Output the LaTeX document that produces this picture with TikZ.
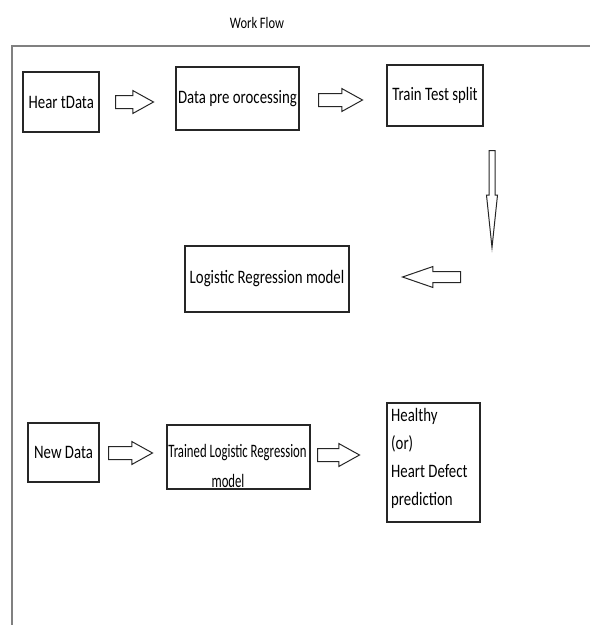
\documentclass[tikz,border=0pt]{standalone}
\usepackage{fontspec}
\setmainfont{Carlito}[FakeStretch=0.78]
\newfontfamily\narrowfont{Carlito}[FakeStretch=0.67]
\usetikzlibrary{shapes.arrows}
\begin{document}
\begin{tikzpicture}[x=1pt,y=-1pt,
  box/.style={draw=black!85, line width=1.2pt, inner sep=0pt, align=center,
    font=\fontsize{19}{22}\selectfont},
  txt/.style={inner sep=0pt, font=\fontsize{19}{22}\selectfont},
  ntxt/.style={inner sep=0pt, font=\narrowfont\fontsize{19}{22}\selectfont},
  barrow/.style={single arrow, draw=black!85, line width=1pt, inner xsep=0pt, inner ysep=6pt,
    single arrow head extend=5pt, single arrow tip angle=58, anchor=tail},
  frame/.style={draw=black!50, line width=2pt}
]
\useasboundingbox (0,0) rectangle (590,625);
\node[txt, font=\fontsize{16}{18}\selectfont] (title) at (257,23) {Work Flow};
\coordinate (fb) at (12,626);
\coordinate (fc) at (12,46);
\coordinate (fr) at (591,46);
\draw[frame] (fb) -- (fc) -- (fr);

\node[box, minimum width=76pt, minimum height=60pt] (heart) at (61,102) {};
\node[txt, anchor=west] (hearttxt) at (28.5,102) {Hear tData};
\node[box, minimum width=123pt, minimum height=63pt] (pre) at (237.5,98.5) {Data pre orocessing};
\node[box, minimum width=96pt, minimum height=61pt] (split) at (435,95.5) {Train Test split};
\node[box, minimum width=164pt, minimum height=66pt] (lr) at (267,279) {Logistic Regression model};
\node[box, minimum width=71pt, minimum height=59pt] (new) at (63.5,452.5) {New Data};
\node[box, minimum width=143pt, minimum height=64pt] (trained) at (238.5,457) {};
\node[ntxt] (t1) at (237.5,453) {Trained Logistic Regression};
\node[ntxt] (t2) at (228,481) {model};
\node[box, minimum width=93pt, minimum height=119pt] (out) at (433.5,462.5) {};
\node[txt, anchor=north west, align=left, font=\fontsize{19}{28}\selectfont] (outtxt) at (391,408) {Healthy\\(or)\\Heart Defect\\prediction};

\node[barrow, minimum height=38pt] (a1) at (115,102) {};
\node[barrow, minimum height=44pt] (a2) at (318,100) {};
\node[barrow, minimum height=58pt, inner ysep=5pt, single arrow tip angle=38, rotate=180] (a4) at (461,277) {};
\node[barrow, minimum height=97pt, inner ysep=2.5pt, single arrow head extend=2.5pt, single arrow tip angle=12, rotate=-90] (a3) at (492,150) {};
\node[barrow, minimum height=44pt] (a5) at (108,453) {};
\node[barrow, minimum height=42pt] (a6) at (317,455) {};
\end{tikzpicture}
\end{document}
